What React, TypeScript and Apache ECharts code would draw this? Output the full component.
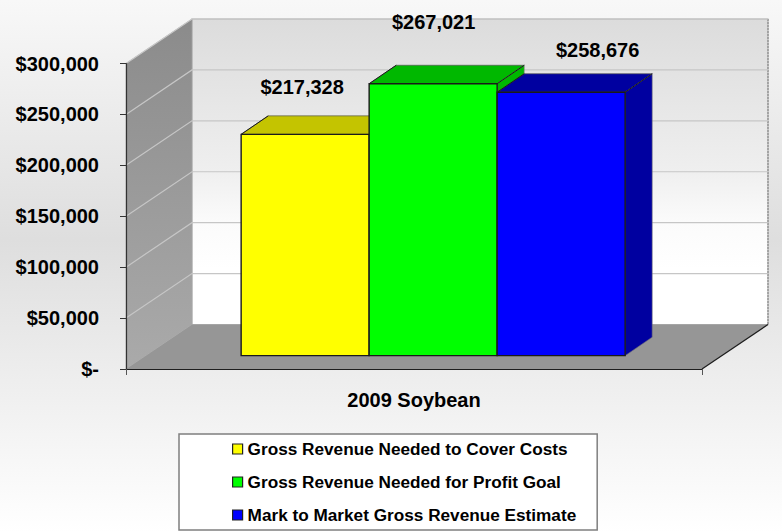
import React, { useEffect, useRef } from "react";
import * as echarts from "echarts";

const categories = ["2009 Soybean"];
const seriesNames = [
  "Gross Revenue Needed to Cover Costs",
  "Gross Revenue Needed for Profit Goal",
  "Mark to Market Gross Revenue Estimate",
];
const coverCosts = [217328];
const profitGoal = [267021];
const markToMarket = [258676];
const gridValues = [50000, 100000, 150000, 200000, 250000, 300000];

const FONT = '"Liberation Sans", Arial, sans-serif';
const DEPTH_X = 66;
const DEPTH_Y = 44.5;
const money = (v: number) => (v === 0 ? "$-" : "$" + v.toLocaleString("en-US"));

const wallsRender = (params: any, api: any) => {
  const cs = params.coordSys;
  const l = cs.x, r = cs.x + cs.width, b = cs.y + cs.height, t = cs.y;
  const children: any[] = [
    {
      type: "rect",
      shape: { x: l + DEPTH_X, y: t - DEPTH_Y, width: cs.width, height: cs.height },
      style: {
        fill: new echarts.graphic.LinearGradient(0, 0, 0, 1, [
          { offset: 0, color: "#dcdcdc" },
          { offset: 0.5, color: "#efefef" },
          { offset: 0.665, color: "#fbfbfb" },
          { offset: 0.82, color: "#ffffff" },
          { offset: 1, color: "#ffffff" },
        ]),
        stroke: "#b4b4b4",
        lineWidth: 1.2,
      },
    },
    {
      type: "line",
      shape: { x1: r + DEPTH_X, y1: t - DEPTH_Y, x2: r + DEPTH_X, y2: b - DEPTH_Y },
      style: { stroke: "#8c8c8c", lineWidth: 1.2, lineDash: [2, 1] },
    },
    {
      type: "polygon",
      shape: { points: [[l, t], [l + DEPTH_X, t - DEPTH_Y], [l + DEPTH_X, b - DEPTH_Y], [l, b]] },
      style: {
        fill: new echarts.graphic.LinearGradient(0, 0, 0, 1, [
          { offset: 0, color: "#8b8b8b" },
          { offset: 1, color: "#aaaaaa" },
        ]),
        stroke: "#a8a8a8",
        lineWidth: 0.6,
      },
    },
    {
      type: "polygon",
      shape: { points: [[l, b], [r, b], [r + DEPTH_X, b - DEPTH_Y], [l + DEPTH_X, b - DEPTH_Y]] },
      style: { fill: "#969696" },
    },
    {
      type: "line",
      shape: { x1: r, y1: b, x2: r + DEPTH_X, y2: b - DEPTH_Y },
      style: { stroke: "#1c1c1c", lineWidth: 1.2 },
    },
  ];
  gridValues.forEach((v) => {
    const y = api.coord([0, v])[1];
    children.push({
      type: "polyline",
      shape: { points: [[l, y], [l + DEPTH_X, y - DEPTH_Y], [r + DEPTH_X, y - DEPTH_Y]] },
      style: { stroke: "#c6c6c6", lineWidth: 1.2, fill: "none" },
    });
  });
  return { type: "group", children };
};

const barRender =
  (index: number, faces: { front: string; top: string; side: string }, labelDx: number, labelDy: number) =>
  (params: any, api: any) => {
    const value = api.value(1);
    const p = api.coord([0, value]);
    const base = api.coord([0, 0]);
    const band = api.size([1, 0])[0];
    const barW = (band * 2) / 9;
    const shiftX = DEPTH_X * 0.29;
    const shiftY = DEPTH_Y * 0.3;
    const dx = DEPTH_X * 0.41;
    const dy = DEPTH_Y * 0.415;
    const x0 = p[0] + shiftX - 1.5 * barW + barW * index;
    const x1 = x0 + barW;
    const yT = p[1] - shiftY;
    const yB = base[1] - shiftY;
    const dark = "#1a1a1a";
    return {
      type: "group",
      children: [
        {
          type: "polygon",
          shape: { points: [[x0, yT], [x1, yT], [x1 + dx, yT - dy], [x0 + dx, yT - dy]] },
          style: { fill: faces.top, stroke: "#555555", lineWidth: 0.7 },
        },
        {
          type: "polygon",
          shape: { points: [[x1, yT], [x1 + dx, yT - dy], [x1 + dx, yB - dy], [x1, yB]] },
          style: { fill: faces.side, stroke: "#777777", lineWidth: 0.6 },
        },
        {
          type: "polyline",
          shape: { points: [[x0, yT], [x0 + dx, yT - dy]] },
          style: { stroke: dark, lineWidth: 1, fill: "none" },
        },
        {
          type: "polyline",
          shape: { points: [[x1, yT], [x1 + dx, yT - dy]] },
          style: { stroke: dark, lineWidth: 1, fill: "none" },
        },
        {
          type: "rect",
          shape: { x: x0, y: yT, width: barW, height: yB - yT },
          style: { fill: faces.front, stroke: dark, lineWidth: 1.4 },
        },
        {
          type: "text",
          x: (x0 + x1) / 2 + labelDx,
          y: yT + labelDy,
          style: {
            text: money(value),
            fill: "#000000",
            font: `bold 20px ${FONT}`,
            align: "center",
            verticalAlign: "middle",
          },
        },
      ],
    };
  };

const barSeries = (
  name: string,
  values: number[],
  index: number,
  faces: { front: string; top: string; side: string },
  labelDx: number,
  labelDy: number,
) => ({
  type: "custom",
  name,
  z: 2,
  coordinateSystem: "cartesian2d",
  encode: { x: 0, y: 1 },
  data: values.map((v) => [0, v]),
  itemStyle: { color: faces.front },
  renderItem: barRender(index, faces, labelDx, labelDy),
});

export default function App() {
  const ref = useRef<HTMLDivElement>(null);
  useEffect(() => {
    const chart = echarts.init(ref.current!, undefined, { renderer: "svg" });
    chart.setOption({
      animation: false,
      backgroundColor: new echarts.graphic.LinearGradient(0, 0, 0, 1, [
        { offset: 0, color: "#f8f8f8" },
        { offset: 0.45, color: "#dedede" },
        { offset: 1, color: "#ffffff" },
      ]),
      grid: { left: 126, right: 80, top: 63.5, bottom: 163 },
      legend: {
        left: 179,
        top: 434,
        height: 300,
        orient: "vertical",
        selectedMode: false,
        backgroundColor: "#ffffff",
        borderColor: "#7f7f7f",
        borderWidth: 1.5,
        padding: [5, 21, 5, 53],
        itemGap: 13,
        itemWidth: 10,
        itemHeight: 10,
        icon: "rect",
        itemStyle: { borderColor: "#222222", borderWidth: 1.2 },
        textStyle: { fontFamily: FONT, fontWeight: "bold", fontSize: 17.2, color: "#000000", lineHeight: 20 },
        data: seriesNames,
      },
      xAxis: {
        type: "category",
        z: 3,
        data: categories,
        axisLine: { lineStyle: { color: "#1e1e1e", width: 1.2 } },
        axisTick: { show: true, length: 6, lineStyle: { color: "#555555" } },
        axisLabel: {
          margin: 21,
          fontFamily: FONT,
          fontWeight: "bold",
          fontSize: 20,
          color: "#000000",
        },
      },
      yAxis: {
        type: "value",
        z: 3,
        min: 0,
        max: 300000,
        interval: 50000,
        splitLine: { show: false },
        axisLine: { show: true, lineStyle: { color: "#333333", width: 1.2 } },
        axisTick: { show: true, length: 6, lineStyle: { color: "#333333" } },
        axisLabel: {
          margin: 27,
          fontFamily: FONT,
          fontWeight: "bold",
          fontSize: 20,
          color: "#000000",
          formatter: money,
        },
      },
      series: [
        {
          type: "custom",
          z: 1,
          coordinateSystem: "cartesian2d",
          encode: { x: 0, y: 1 },
          data: [[0, 0]],
          silent: true,
          renderItem: wallsRender,
        },
        barSeries(seriesNames[0], coverCosts, 0, { front: "#ffff00", top: "#c4c400", side: "#c4c400" }, -3, -47),
        barSeries(seriesNames[1], profitGoal, 1, { front: "#00ff00", top: "#00b800", side: "#00b800" }, 0.5, -62),
        barSeries(seriesNames[2], markToMarket, 2, { front: "#0000ff", top: "#0000a0", side: "#0000a0" }, 36.5, -42),
      ],
    });
    return () => chart.dispose();
  }, []);
  return (
    <div
      ref={ref}
      style={{ position: "absolute", left: 0, top: 0, width: 782, height: 532 }}
    />
  );
}
